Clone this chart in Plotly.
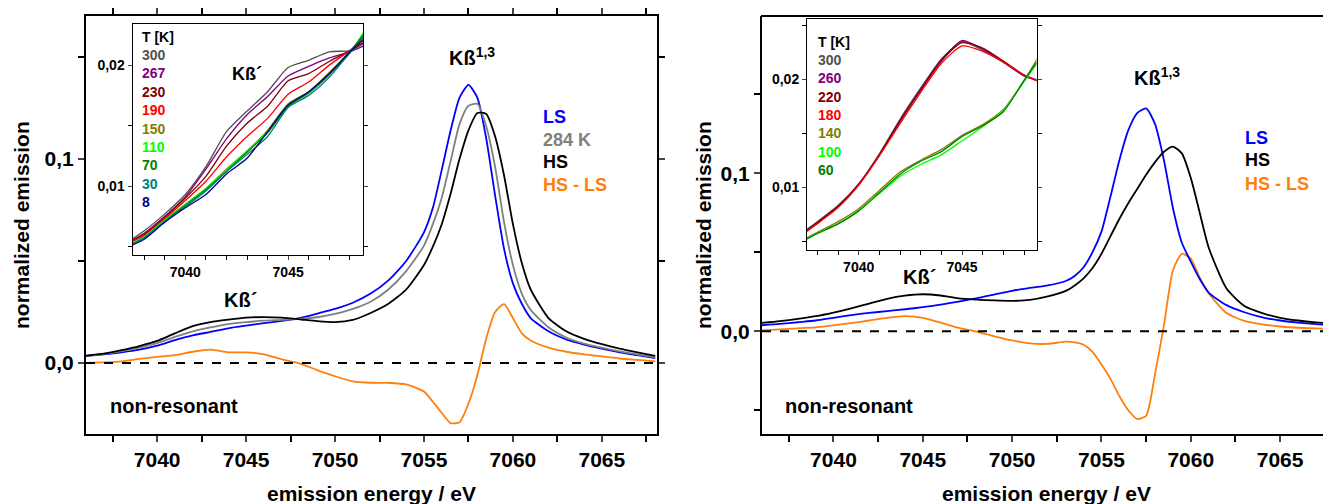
import plotly.graph_objects as go

# ---------------- data: left panel (main) ----------------
E_left = [7036, 7037, 7038, 7039, 7040, 7041, 7042, 7043, 7044, 7045, 7046, 7047, 7048, 7049,
          7050, 7051, 7052, 7053, 7054, 7055, 7055.5, 7056, 7056.5, 7057, 7057.5, 7058, 7058.5,
          7059, 7059.5, 7060, 7060.5, 7061, 7062, 7063, 7064, 7065, 7066, 7067, 7068]
LS_left = [0.0034, 0.0042, 0.0052, 0.0065, 0.0085, 0.0112, 0.0135, 0.0152, 0.0170, 0.0183, 0.0195,
           0.0206, 0.0220, 0.0242, 0.0265, 0.0295, 0.0340, 0.0405, 0.050, 0.064, 0.076, 0.0946,
           0.114, 0.130, 0.1363, 0.130, 0.110, 0.082, 0.056, 0.039, 0.029, 0.022, 0.0155, 0.0115,
           0.009, 0.007, 0.0052, 0.0038, 0.0024]
K284_left = [0.0035, 0.0044, 0.0058, 0.0075, 0.0097, 0.0128, 0.0155, 0.0174, 0.0190, 0.0200, 0.0207,
             0.0211, 0.0216, 0.0224, 0.0240, 0.0265, 0.030, 0.036, 0.045, 0.0575, 0.068, 0.081,
             0.099, 0.117, 0.126, 0.127, 0.116, 0.096, 0.069, 0.048, 0.034, 0.026, 0.0175, 0.0125,
             0.0095, 0.0075, 0.0057, 0.0042, 0.0028]
HS_left = [0.0036, 0.0046, 0.0063, 0.0083, 0.0108, 0.0145, 0.0180, 0.0200, 0.0212, 0.0222, 0.0225,
           0.0222, 0.0214, 0.0205, 0.0200, 0.0211, 0.0245, 0.029, 0.036, 0.048, 0.057, 0.068,
           0.083, 0.100, 0.114, 0.1225, 0.122, 0.111, 0.092, 0.068, 0.049, 0.036, 0.022, 0.0155,
           0.0118, 0.0092, 0.0070, 0.0052, 0.0035]
DIFF_left = [0.0, 0.0003, 0.0008, 0.0020, 0.0030, 0.0038, 0.0055, 0.0065, 0.0052, 0.0052, 0.0042,
             0.0018, -0.0002, -0.0035, -0.0065, -0.0090, -0.0097, -0.0098, -0.0105, -0.014, -0.019,
             -0.0245, -0.0295, -0.029, -0.020, -0.006, 0.012, 0.025, 0.0288, 0.022, 0.0145, 0.011,
             0.0075, 0.0055, 0.0042, 0.0032, 0.0022, 0.0015, 0.0008]

# ---------------- data: left inset (temperature series) ----------------
E_inset_left = [7037.4, 7038, 7039, 7040, 7041, 7042, 7043, 7044, 7045, 7046, 7047, 7048, 7048.7]
T_left_labels = ["300", "267", "230", "190", "150", "110", "70", "30", "8"]
T_left_values = [
    [0.0056, 0.0063, 0.0077, 0.0093, 0.0116, 0.0145, 0.0162, 0.0178, 0.0198, 0.0204, 0.0211, 0.0212, 0.0218],
    [0.0055, 0.0061, 0.0075, 0.0091, 0.0114, 0.0139, 0.0159, 0.0174, 0.0191, 0.0199, 0.0206, 0.0211, 0.0216],
    [0.0055, 0.0060, 0.0074, 0.0090, 0.0108, 0.0133, 0.0152, 0.0166, 0.0187, 0.0193, 0.0203, 0.0212, 0.0219],
    [0.0054, 0.0059, 0.0073, 0.0088, 0.0104, 0.0124, 0.0141, 0.0156, 0.0176, 0.0186, 0.0200, 0.0212, 0.0221],
    [0.0053, 0.0058, 0.0072, 0.0085, 0.0098, 0.0114, 0.0129, 0.0146, 0.0168, 0.0178, 0.0194, 0.0211, 0.0225],
    [0.0053, 0.0058, 0.0072, 0.0085, 0.0098, 0.0113, 0.0129, 0.0145, 0.0167, 0.0177, 0.0193, 0.0210, 0.0228],
    [0.0052, 0.0057, 0.0071, 0.0084, 0.0097, 0.0112, 0.0128, 0.0144, 0.0166, 0.0177, 0.0192, 0.0211, 0.0226],
    [0.0052, 0.0057, 0.0071, 0.0083, 0.0096, 0.0112, 0.0126, 0.0141, 0.0165, 0.0175, 0.0190, 0.0210, 0.0224],
    [0.0051, 0.0056, 0.0070, 0.0082, 0.0093, 0.0110, 0.0123, 0.0145, 0.0167, 0.0178, 0.0193, 0.0211, 0.0222],
]
T_left_colors = ["#505050", "#800080", "#800000", "#ff0000", "#808000", "#00ff00", "#008000", "#008080", "#000080"]

# ---------------- data: right panel (main) ----------------
E_right = [7036, 7037, 7038, 7039, 7040, 7041, 7042, 7043, 7044, 7045, 7046, 7047, 7048, 7049,
           7050, 7051, 7052, 7053, 7053.5, 7054, 7054.5, 7055, 7055.5, 7056, 7056.5, 7057, 7057.5,
           7058, 7058.5, 7059, 7059.5, 7060, 7060.5, 7061, 7062, 7063, 7064, 7065, 7066, 7067, 7068]
LS_right = [0.0038, 0.0046, 0.0057, 0.0068, 0.0085, 0.0102, 0.0116, 0.0127, 0.0139, 0.0152, 0.0168,
            0.0188, 0.0208, 0.0232, 0.0256, 0.0274, 0.0290, 0.0318, 0.0350, 0.0405, 0.050, 0.063,
            0.085, 0.108, 0.127, 0.138, 0.141, 0.131, 0.108, 0.078, 0.056, 0.044, 0.033, 0.0245,
            0.0165, 0.012, 0.0088, 0.0068, 0.0055, 0.0045, 0.0038]
HS_right = [0.0053, 0.0064, 0.0078, 0.0095, 0.0118, 0.0145, 0.0175, 0.0205, 0.0225, 0.0234, 0.0226,
            0.0208, 0.0200, 0.0195, 0.0192, 0.0198, 0.0220, 0.0255, 0.0290, 0.0335, 0.040, 0.049,
            0.060, 0.071, 0.081, 0.090, 0.099, 0.107, 0.1135, 0.1168, 0.1125, 0.097, 0.075, 0.053,
            0.027, 0.016, 0.0115, 0.0085, 0.0068, 0.0056, 0.0048]
DIFF_right = [0.0006, 0.0012, 0.0018, 0.0025, 0.0037, 0.0052, 0.0068, 0.0085, 0.0095, 0.0085, 0.0055,
              0.0022, -0.0002, -0.0032, -0.0058, -0.0077, -0.0080, -0.0066, -0.0070, -0.0085,
              -0.0130, -0.0210, -0.030, -0.041, -0.050, -0.0555, -0.0535, -0.027, 0.004, 0.0386,
              0.049, 0.046, 0.034, 0.024, 0.0115, 0.0065, 0.0043, 0.0030, 0.0022, 0.0018, 0.0015]

# ---------------- data: right inset (temperature series) ----------------
E_inset_right = [7037.5, 7038, 7039, 7040, 7041, 7042, 7043, 7044, 7045, 7046, 7047, 7048, 7048.7]
T_right_labels = ["300", "260", "220", "180", "140", "100", "60"]
T_right_values = [
    [0.0061, 0.0068, 0.0083, 0.0103, 0.0131, 0.0163, 0.0192, 0.0219, 0.0235, 0.0227, 0.0216, 0.0204, 0.0199],
    [0.0060, 0.0067, 0.0082, 0.0103, 0.0130, 0.0162, 0.0191, 0.0218, 0.0236, 0.0228, 0.0216, 0.0203, 0.0199],
    [0.0060, 0.0067, 0.0082, 0.0102, 0.0130, 0.0161, 0.0190, 0.0217, 0.0234, 0.0229, 0.0217, 0.0204, 0.0198],
    [0.0059, 0.0066, 0.0081, 0.0102, 0.0129, 0.0159, 0.0188, 0.0215, 0.0231, 0.0226, 0.0216, 0.0204, 0.0198],
    [0.0053, 0.0058, 0.0068, 0.0080, 0.0097, 0.0114, 0.0125, 0.0135, 0.0148, 0.0158, 0.0172, 0.0199, 0.0221],
    [0.0052, 0.0057, 0.0066, 0.0078, 0.0094, 0.0110, 0.0121, 0.0130, 0.0143, 0.0156, 0.0171, 0.0198, 0.0217],
    [0.0052, 0.0057, 0.0066, 0.0078, 0.0095, 0.0112, 0.0124, 0.0133, 0.0147, 0.0157, 0.0170, 0.0199, 0.0218],
]
T_right_colors = ["#505050", "#800080", "#800000", "#ff0000", "#808000", "#00ff00", "#008000"]

# ---------------- axis ticks ----------------
main_xticks = [7040, 7045, 7050, 7055, 7060, 7065]
main_xlabels = ["7040", "7045", "7050", "7055", "7060", "7065"]
main_yticks = [0.0, 0.1]
main_ylabels = ["0,0", "0,1"]
inset_xticks = [7040, 7045]
inset_xlabels = ["7040", "7045"]
inset_yticks = [0.01, 0.02]
inset_ylabels = ["0,01", "0,02"]

BLUE, GRAY, BLACK, ORANGE = "#0000ff", "#808080", "#000000", "#ff7f0e"
FONT = "Liberation Sans, Arial, sans-serif"
W, H = 1323, 504


def px(x):
    return x / W


def py(y):
    return 1 - y / H


fig = go.Figure()


def line(x, y, color, xa, ya, width=1.8):
    fig.add_trace(go.Scatter(x=x, y=y, mode="lines", xaxis=xa, yaxis=ya, showlegend=False,
                             line=dict(color=color, width=width, shape="spline", smoothing=0.6),
                             hoverinfo="skip"))


# left main
line(E_left, DIFF_left, ORANGE, "x", "y")
line(E_left, LS_left, BLUE, "x", "y")
line(E_left, K284_left, GRAY, "x", "y")
line(E_left, HS_left, BLACK, "x", "y")
# left inset
for vals, col in zip(T_left_values, T_left_colors):
    line(E_inset_left, vals, col, "x2", "y2", width=1.3)
# right main
line(E_right, DIFF_right, ORANGE, "x3", "y3")
line(E_right, LS_right, BLUE, "x3", "y3")
line(E_right, HS_right, BLACK, "x3", "y3")
# right inset
for vals, col in zip(T_right_values, T_right_colors):
    line(E_inset_right, vals, col, "x4", "y4", width=1.3)

tickfont_main = dict(family=FONT, size=21, color="black", weight="bold")
tickfont_inset = dict(family=FONT, size=14, color="black", weight="bold")

main_x = dict(range=[7036, 7068.1], tickvals=main_xticks, ticktext=main_xlabels, ticks="outside",
              ticklen=6, tickwidth=1.5, showline=True, linewidth=2, linecolor="black",
              mirror="ticks", showgrid=False, zeroline=False, tickfont=tickfont_main,
              automargin=False,
              minor=dict(tick0=7035, dtick=2.5, ticks="outside", ticklen=6, tickwidth=1.5,
                         tickcolor="black", showgrid=False))
main_y = dict(tickvals=main_yticks, ticktext=main_ylabels, ticks="outside", ticklen=6, tickwidth=1.5,
              showline=True, linewidth=2, linecolor="black", mirror="ticks", showgrid=False,
              zeroline=False, tickfont=tickfont_main, automargin=False,
              minor=dict(tick0=0, dtick=0.05, ticks="outside", ticklen=6, tickwidth=1.5,
                         tickcolor="black", showgrid=False))
inset_x = dict(tickvals=inset_xticks, ticktext=inset_xlabels, ticks="outside", ticklen=4, tickwidth=1,
               showline=True, linewidth=1, linecolor="black", mirror=True, showgrid=False,
               zeroline=False, tickfont=tickfont_inset, automargin=False,
               minor=dict(tick0=7035, dtick=1, ticks="outside", ticklen=4, tickwidth=1,
                          tickcolor="black", showgrid=False))
inset_y = dict(tickvals=inset_yticks, ticktext=inset_ylabels, ticks="outside", ticklen=4, tickwidth=1,
               showline=True, linewidth=1, linecolor="black", mirror="ticks", showgrid=False,
               zeroline=False, tickfont=tickfont_inset, automargin=False,
               minor=dict(tick0=0, dtick=0.005, ticks="outside", ticklen=4, tickwidth=1,
                          tickcolor="black", showgrid=False))

fig.update_layout(
    width=W, height=H, margin=dict(l=0, r=0, t=0, b=0, autoexpand=False),
    paper_bgcolor="white", plot_bgcolor="rgba(0,0,0,0)",
    xaxis=dict(main_x, domain=[px(86), px(657)], anchor="y"),
    yaxis=dict(main_y, domain=[py(434), py(16)], range=[-0.0348, 0.170], anchor="x"),
    xaxis2=dict(inset_x, domain=[px(132.5), px(363)], range=[7037.43, 7048.64], anchor="y2"),
    yaxis2=dict(inset_y, domain=[py(255), py(24)], range=[0.0043, 0.0234], anchor="x2"),
    xaxis3=dict(main_x, domain=[px(762), 1.0], range=[7036, 7067.4], anchor="y3", mirror=False),
    yaxis3=dict(main_y, domain=[py(434), py(16)], range=[-0.065, 0.1994], anchor="x3", mirror=False),
    xaxis4=dict(inset_x, domain=[px(807), px(1036.5)], range=[7037.5, 7048.6], anchor="y4"),
    yaxis4=dict(inset_y, domain=[py(250), py(19)], range=[0.00417, 0.0256], anchor="x4"),
)

shapes = [
    dict(type="line", xref="x", yref="y", x0=7036, x1=7068.1, y0=0, y1=0,
         line=dict(color="black", width=2, dash="dash")),
    dict(type="line", xref="x3", yref="y3", x0=7036, x1=7067.4, y0=0, y1=0,
         line=dict(color="black", width=2, dash="dash")),
    # top border of right panel (no right border visible)
    dict(type="line", xref="paper", yref="paper", x0=px(761), x1=1.0, y0=py(16), y1=py(16),
         line=dict(color="black", width=2)),
]
fig.update_layout(shapes=shapes)

ann = []


def text(x, y, s, color="black", size=20, xanchor="center", textangle=0):
    ann.append(dict(x=px(x), y=py(y), xref="paper", yref="paper", text=s, showarrow=False,
                    xanchor=xanchor, yanchor="middle", textangle=textangle,
                    font=dict(family=FONT, size=size, color=color, weight="bold")))


# axis titles
text(22, 225, "normalized emission", size=21, textangle=-90)
text(704, 225, "normalized emission", size=21, textangle=-90)
text(371.5, 493, "emission energy / eV", size=21)
text(1046, 493, "emission energy / eV", size=21)

# peak labels
text(472, 56, "Kß<sup>1,3</sup>", size=20)
text(1157, 76, "Kß<sup>1,3</sup>", size=20)
text(240, 300, "Kß´", size=20)
text(920, 277, "Kß´", size=20)
text(247, 74, "Kß´", size=18)
text(108, 406, "non-resonant", size=20, xanchor="left")
text(783, 406, "non-resonant", size=20, xanchor="left")

# series labels
for s, c, y in [("LS", BLUE, 117), ("284 K", GRAY, 140), ("HS", BLACK, 162), ("HS - LS", ORANGE, 185)]:
    text(541, y, s, color=c, size=18, xanchor="left")
for s, c, y in [("LS", BLUE, 138), ("HS", BLACK, 160), ("HS - LS", ORANGE, 184)]:
    text(1243, y, s, color=c, size=18, xanchor="left")

# inset temperature labels
text(140, 37, "T [K]", size=14, xanchor="left")
for i, (s, c) in enumerate(zip(T_left_labels, T_left_colors)):
    text(140, 55 + i * 18.4, s, color=c, size=14, xanchor="left")
text(816, 42, "T [K]", size=14, xanchor="left")
for i, (s, c) in enumerate(zip(T_right_labels, T_right_colors)):
    text(816, 60 + i * 18.3, s, color=c, size=14, xanchor="left")

fig.update_layout(annotations=ann)
fig.write_html(
    "out.html",
    config={"displayModeBar": False},
    post_script="document.body.style.margin='0';document.body.style.overflow='hidden';",
)
